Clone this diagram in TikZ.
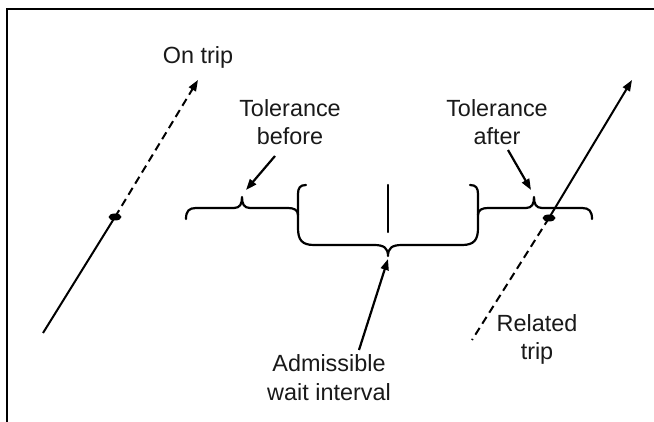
\documentclass[tikz,border=0pt]{standalone}
\usepackage{fontspec}
\setmainfont{Liberation Sans}
\usetikzlibrary{arrows.meta,shapes.geometric}
\begin{document}
\begin{tikzpicture}[x=1pt,y=-1pt,
  lbl/.style={align=center,inner sep=0pt,text=black!90,font=\fontsize{23.4}{28.5}\selectfont},
  ln/.style={line width=2pt},
  brc/.style={line width=2.2pt,line join=round,line cap=round},
  arr/.style={line width=2.2pt,-{Triangle[length=11pt,width=8pt]}},
  dsh/.style={line width=2pt,dash pattern=on 8pt off 5pt},
  dotm/.style={fill=black,ellipse,inner sep=0pt,minimum width=13pt,minimum height=7pt}]
\useasboundingbox (0,0) rectangle (654,422);
\fill[white] (0,0) rectangle (654,422);
\draw[line width=2.2pt] (654,9) -- (7,9) -- (7,422);

% labels
\node[lbl,anchor=base] (ontrip) at (198,63.5) {On trip};
\node[lbl] (tolb) at (290,122) {Tolerance\\before};
\node[lbl] (tola) at (497,122) {Tolerance\\after};
\node[lbl] (adm) at (329,377.5) {Admissible\\wait interval};
\node[lbl] (rel) at (537,339.5) {Related\\trip};

% braces
\draw[brc] (186,219) .. controls (186,211) and (189,208) .. (196,208) -- (234,208)
  .. controls (240,208) and (242,204) .. (242,197)
  .. controls (242,204) and (244,208) .. (250,208) -- (288,208)
  .. controls (294,208) and (298,210) .. (298,215);
\draw[brc] (306,185) .. controls (300,185) and (298,188) .. (298,194) -- (298,228)
  .. controls (298,240) and (302,245) .. (314,245) -- (374,245)
  .. controls (384,245) and (388,248) .. (388,256)
  .. controls (388,248) and (392,245) .. (402,245) -- (462,245)
  .. controls (474,245) and (478,240) .. (478,228) -- (478,194)
  .. controls (478,188) and (476,185) .. (470,185);
\draw[brc] (478,215) .. controls (478,210) and (482,208) .. (488,208) -- (526,208)
  .. controls (532,208) and (534,204) .. (534,197)
  .. controls (534,204) and (536,208) .. (542,208) -- (582,208)
  .. controls (589,208) and (592,211) .. (592,219);
\coordinate (midtop) at (388,185);
\coordinate (midbot) at (388,232);
\draw[brc] (midtop) -- (midbot);

% trips
\node[dotm] (d1) at (115,217) {};
\node[dotm] (d2) at (549,218) {};
\coordinate (a1) at (43,333);
\coordinate (a2) at (198,80);
\coordinate (b1) at (472,340);
\coordinate (b2) at (632,80);
\draw[ln] (a1) -- (d1.center);
\draw[dsh,-{Triangle[length=11pt,width=8pt]}] (d1.center) -- (a2);
\draw[dsh] (d2.center) -- (b1);
\draw[arr,line width=2pt] (d2.center) -- (b2);

% label arrows
\coordinate (tbT) at (275,156);
\coordinate (tbH) at (246,190);
\coordinate (taT) at (508,150);
\coordinate (taH) at (531,190);
\coordinate (adT) at (359,350);
\coordinate (adH) at (388,259);
\draw[arr] (tbT) -- (tbH);
\draw[arr] (taT) -- (taH);
\draw[arr] (adT) -- (adH);
\end{tikzpicture}
\end{document}
